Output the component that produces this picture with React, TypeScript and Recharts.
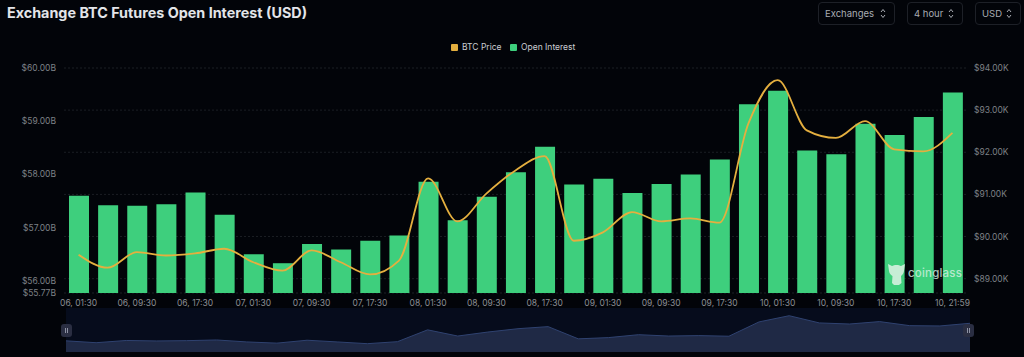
import React from "react";
import { ComposedChart, AreaChart, Area, Bar, Line, XAxis, YAxis, CartesianGrid, Legend } from "recharts";

const times = [
  "06, 01:30","06, 05:30","06, 09:30","06, 13:30","06, 17:30","06, 21:30",
  "07, 01:30","07, 05:30","07, 09:30","07, 13:30","07, 17:30","07, 21:30",
  "08, 01:30","08, 05:30","08, 09:30","08, 13:30","08, 17:30","08, 21:30",
  "09, 01:30","09, 05:30","09, 09:30","09, 13:30","09, 17:30","09, 21:30",
  "10, 01:30","10, 05:30","10, 09:30","10, 13:30","10, 17:30","10, 20:00","10, 21:59",
];
const openInterest = [
  57.60,57.42,57.41,57.44,57.66,57.24,56.50,56.33,56.69,56.59,56.75,56.85,
  57.86,57.14,57.58,58.04,58.52,57.81,57.92,57.65,57.82,58.00,58.28,59.32,
  59.57,58.45,58.38,58.95,58.74,59.08,59.54,
];
const btcPrice = [
  89.57,89.26,89.63,89.55,89.60,89.71,89.39,89.19,89.67,89.39,89.10,89.43,
  91.38,90.36,91.02,91.57,91.91,89.90,90.10,90.58,90.36,90.43,90.33,92.69,
  93.71,92.52,92.34,92.74,92.07,92.02,92.46,
];
const leftTicks = [55.77,56,57,58,59,60];
const rightTicks = [89,90,91,92,93,94];
const xTicks = times.filter((_, i) => i % 2 === 0);
const selectors = [
  { label: "Exchanges", left: 818, width: 77 },
  { label: "4 hour", left: 907, width: 56 },
  { label: "USD", left: 975, width: 46 },
];
const rows = times.map((time, i) => ({ time, oi: openInterest[i], price: btcPrice[i] }));

const FONT = "Inter, 'Noto Sans', sans-serif";
const BG = "#020409";
const GREEN = "#3ecf7d";
const GOLD = "#e4af3f";

function LegendBox() {
  const items = [{ c: GOLD, t: "BTC Price", w: 59 }, { c: GREEN, t: "Open Interest", w: 80 }];
  return (
    <div style={{ display: "flex", fontFamily: FONT, fontSize: 8.5, color: "#c9ccd2", lineHeight: "12px", whiteSpace: "nowrap" }}>
      {items.map((it) => (
        <div key={it.t} style={{ display: "flex", alignItems: "center", width: it.w }}>
          <span style={{ width: 7, height: 7, background: it.c, marginRight: 4, borderRadius: 1 }} />
          {it.t}
        </div>
      ))}
    </div>
  );
}

function Handle({ left }: { left: number }) {
  return (
    <div style={{ position: "absolute", left, top: 324, width: 11, height: 13, borderRadius: 3, background: "#2a2e42",
      display: "flex", alignItems: "center", justifyContent: "center", gap: 1 }}>
      <span style={{ width: 1, height: 5, background: "#8d91a3" }} />
      <span style={{ width: 1, height: 5, background: "#8d91a3" }} />
    </div>
  );
}

export default function App() {
  return (
    <div style={{ position: "absolute", left: 0, top: 0, width: 1024, height: 357, background: BG, overflow: "hidden", fontFamily: FONT }}>
      <div style={{ position: "absolute", left: 7, top: 3, fontSize: 14.35, fontWeight: 700, color: "#e3e5e9", lineHeight: "20px", whiteSpace: "nowrap" }}>
        Exchange BTC Futures Open Interest (USD)
      </div>
      {selectors.map((s) => (
        <div key={s.label} style={{ position: "absolute", left: s.left, top: 2, width: s.width, height: 23, boxSizing: "border-box",
          border: "1px solid #1d2027", borderRadius: 4, color: "#a9acb3", fontSize: 9.5, display: "flex", alignItems: "center", justifyContent: "space-between", padding: "0 8px 0 6px" }}>
          <span>{s.label}</span>
          <svg width="6" height="11" viewBox="0 0 6 11">
            <path d="M1 4 L3 1.5 L5 4 M1 7 L3 9.5 L5 7" fill="none" stroke="#a9acb3" strokeWidth="1" />
          </svg>
        </div>
      ))}

      <div style={{ position: "absolute", left: 0, top: 0 }}>
        <ComposedChart width={1024} height={357} data={rows} margin={{ top: 68, right: 0, bottom: 0, left: 4 }} barCategoryGap={0}>
          <CartesianGrid yAxisId="right" vertical={false} stroke="#1b1e24" strokeDasharray="2 2" />
          <XAxis dataKey="time" ticks={xTicks} interval={0} height={64} axisLine={false} tickLine={false} tickSize={0} tickMargin={7}
            tick={{ fill: "#8b8e94", fontSize: 8.5, fontFamily: FONT }} />
          <YAxis yAxisId="left" orientation="left" width={60} domain={[55.77, 60]} ticks={leftTicks} interval={0} allowDataOverflow
            axisLine={false} tickLine={false} tickSize={0} tickMargin={8}
            tickFormatter={(v: number) => `$${v.toFixed(2)}B`} tick={{ fill: "#7d8086", fontSize: 8.5, fontFamily: FONT }} />
          <YAxis yAxisId="right" orientation="right" width={57} domain={[88.66, 94]} ticks={rightTicks} interval={0} allowDataOverflow
            axisLine={false} tickLine={false} tickSize={0} tickMargin={7}
            tickFormatter={(v: number) => `$${v.toFixed(2)}K`} tick={{ fill: "#7d8086", fontSize: 8.5, fontFamily: FONT }} />
          <Legend content={<LegendBox />} verticalAlign="middle" align="center" wrapperStyle={{ position: "absolute", left: 451, top: 41, width: 150 }} />
          <Bar yAxisId="left" dataKey="oi" name="Open Interest" fill={GREEN} barSize={20} isAnimationActive={false} />
          <Line yAxisId="right" dataKey="price" name="BTC Price" type="monotone" stroke={GOLD} strokeWidth={1.8} dot={false} activeDot={false} isAnimationActive={false} />
        </ComposedChart>
      </div>

      <div style={{ position: "absolute", left: 66, top: 308, width: 904, height: 44, background: "#060c1c" }}>
        <AreaChart width={904} height={44} data={rows} margin={{ top: 0, right: 0, bottom: 0, left: 0 }}>
          <XAxis dataKey="time" hide padding={{ left: 0, right: 0 }} scale="point" />
          <YAxis hide domain={[87.73, 94.98]} allowDataOverflow />
          <Area dataKey="price" type="linear" stroke="#2f4270" strokeWidth={1} fill="#1f2945" fillOpacity={1} dot={false} activeDot={false} isAnimationActive={false} />
        </AreaChart>
      </div>
      <Handle left={61} />
      <Handle left={963} />

      <svg style={{ position: "absolute", left: 886, top: 262 }} width="22" height="24" viewBox="0 0 22 24">
        <path d="M2 2 L6 4 C8 2.5 13 2.5 15 4 L19 2 L18 9 C17.5 12 16 13 15 14 L15.5 21 L13 23 L8 23 L6 21 L6.5 14 C5 13 3.5 12 3 9 Z" fill="#d5efe0" fillOpacity="0.9" />
      </svg>
      <div style={{ position: "absolute", left: 908, top: 264, fontSize: 11.5, fontWeight: 500, color: "#d5efe0", opacity: 0.8, lineHeight: "18px", letterSpacing: 0.2 }}>
        coinglass
      </div>
    </div>
  );
}
